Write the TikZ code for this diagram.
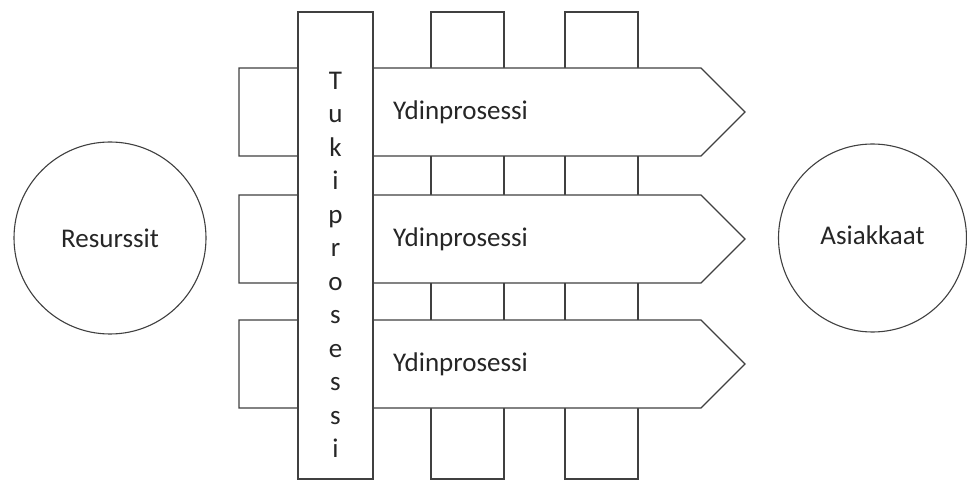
\documentclass[tikz,border=0pt]{standalone}
\usepackage{fontspec}
\setmainfont{Carlito}
\usepackage{tikz}
\usetikzlibrary{positioning, calc}
\tikzstyle{box} = [draw=black!75, line width=1.1pt, fill=white]
\tikzstyle{label} = [font=\fontsize{27}{33.5}\selectfont, text=black!85, inner sep=0pt]
\tikzstyle{ring} = [circle, box, minimum size=192pt, label]

\begin{document}
\begin{tikzpicture}[x=1pt, y=-1pt]
            \useasboundingbox (0,0) rectangle (967,481);
            % columns behind the core processes
            \foreach \cx in {431, 565}
                \draw[box] (\cx,12) rectangle ++(73,467);
            % core processes
            \foreach \py/\n in {68/1, 195/2, 320/3} {
                \draw[box] (239,\py) -- (701,\py) -- (745,\py+44) -- (701,\py+88) -- (239,\py+88) -- cycle;
                \node[label, anchor=west] (core\n) at (393,\py+44) {Ydinprosessi};
            }
            % support process across them
            \draw[box] (298,12) rectangle (373,479);
            \node[label, align=center] (tuki) at (335.5,265) {T\\u\\k\\i\\p\\r\\o\\s\\e\\s\\s\\i};
            \node[ring] (resurssit) at (110,238) {Resurssit};
            \node[ring, minimum size=188pt] (asiakkaat) at (872.5,238) {\raisebox{6pt}{Asiakkaat}};
        \end{tikzpicture}
\end{document}
